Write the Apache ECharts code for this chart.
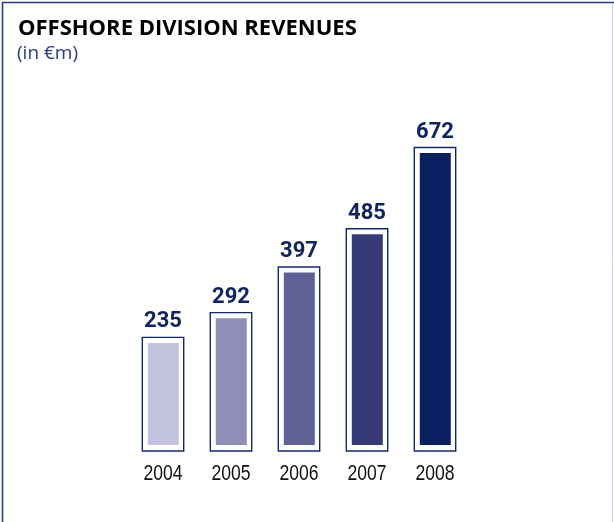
<!DOCTYPE html>
<html>
<head>
<meta charset="utf-8">
<style>
  html, body { margin: 0; padding: 0; background: #ffffff; }
  #chart { width: 614px; height: 522px; }
</style>
<script src="https://cdn.jsdelivr.net/npm/echarts@6/dist/echarts.min.js"></script>
</head>
<body>
<div id="chart"></div>
<script>
// Offshore division revenues, in € million
const years = ['2004', '2005', '2006', '2007', '2008'];
const revenues = [235, 292, 397, 485, 672];
const barColors = ['#c3c3df', '#8e8eb9', '#5f6095', '#363b77', '#0b2060'];

const NAVY = '#13296a';
const chart = echarts.init(document.getElementById('chart'), null, { renderer: 'canvas' });

// Each bar: white framed box with a navy outline, a coloured fill inside,
// the value above it and the (condensed) year label below it
function renderBar(params, api) {
  const i = api.value(0);
  const v = api.value(1);
  const top = api.coord([i, v]);
  const base = api.coord([i, 0]);
  const cx = top[0];
  const h = base[1] - top[1];
  return {
    type: 'group',
    children: [
      {
        type: 'rect',
        shape: { x: cx - 20.7, y: top[1] - 5.5, width: 41.4, height: h + 11.5 },
        style: { fill: '#ffffff', stroke: NAVY, lineWidth: 1.4 }
      },
      {
        type: 'rect',
        shape: { x: cx - 15.2, y: top[1], width: 31, height: h },
        style: { fill: barColors[i] }
      },
      {
        type: 'text',
        x: cx,
        y: top[1] - 21,
        style: {
          text: String(v),
          align: 'center',
          verticalAlign: 'middle',
          fontFamily: 'Roboto',
          fontWeight: 'bold',
          fontSize: 22,
          fill: '#0e2463'
        }
      },
      {
        type: 'text',
        x: cx,
        y: base[1] + 29,
        scaleX: 0.8,
        style: {
          text: years[i],
          align: 'center',
          verticalAlign: 'middle',
          fontFamily: '"Liberation Sans", Arial, sans-serif',
          fontSize: 22,
          fill: '#111111'
        }
      }
    ]
  };
}

chart.setOption({
  animation: false,
  grid: { left: 129, right: 145, top: 97.4, bottom: 77, containLabel: false },
  xAxis: {
    type: 'category',
    data: years,
    axisLine: { show: false },
    axisTick: { show: false },
    axisLabel: { show: false }
  },
  yAxis: {
    type: 'value',
    min: 0,
    max: 800,
    show: false,
    splitLine: { show: false }
  },
  series: [{
    type: 'custom',
    renderItem: renderBar,
    data: revenues.map((v, i) => [i, v]),
    clip: false
  }],
  graphic: [
    { type: 'line', shape: { x1: 2, y1: 2.5, x2: 614, y2: 2.5 }, style: { stroke: '#2b3d80', lineWidth: 1.6 } },
    { type: 'line', shape: { x1: 2.5, y1: 2, x2: 2.5, y2: 522 }, style: { stroke: '#2b3d80', lineWidth: 1.6 } },
    { type: 'line', shape: { x1: 612.5, y1: 3, x2: 612.5, y2: 522 }, style: { stroke: '#cfd0d8', lineWidth: 1 } },
    {
      type: 'text', x: 18, y: 28.5,
      style: {
        text: 'OFFSHORE DIVISION REVENUES',
        verticalAlign: 'middle',
        fontFamily: '"Open Sans"', fontWeight: 'bold', fontSize: 22, fill: '#000000'
      }
    },
    {
      type: 'text', x: 17, y: 54,
      style: {
        text: '(in €m)',
        verticalAlign: 'middle',
        fontFamily: '"Open Sans"', fontSize: 19, fill: '#2a3c86'
      }
    }
  ]
});
</script>
</body>
</html>
